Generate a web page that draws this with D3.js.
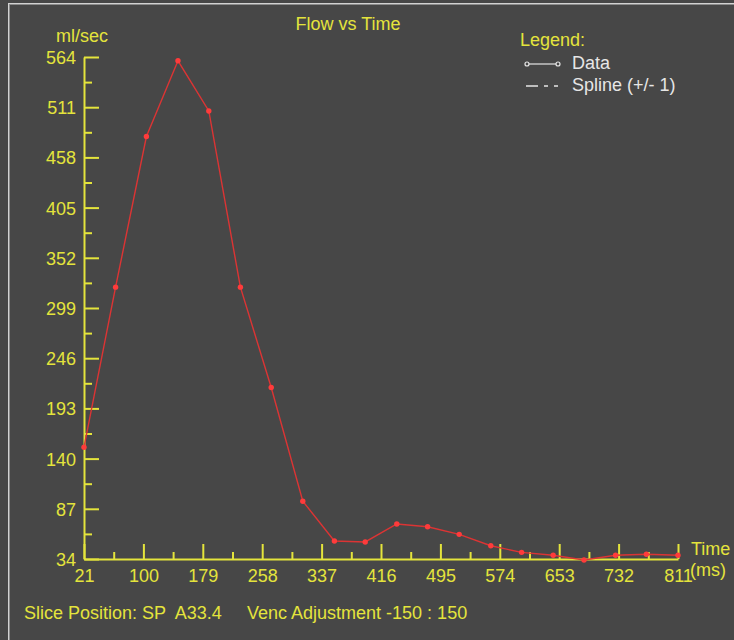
<!DOCTYPE html>
<html>
<head>
<meta charset="utf-8">
<script src="https://cdn.jsdelivr.net/npm/d3@7"></script>
<style>
  html, body { margin: 0; padding: 0; background: #474747; }
  svg { display: block; }
  text { font-family: "Liberation Sans", Arial, sans-serif; }
</style>
</head>
<body>
<svg id="chart" width="734" height="640"></svg>
<script>
// ---- data ----
const times = [21, 63, 104, 146, 187, 229, 270, 312, 354, 395, 437, 478, 520, 562, 603, 645, 686, 728, 769, 811];
const flow  = [152, 321, 480, 560, 507, 321, 215, 95, 53, 52, 71, 68, 60, 48, 41, 38, 33, 38, 39, 38];
const xTickValues = [21, 100, 179, 258, 337, 416, 495, 574, 653, 732, 811];
const yTickValues = [564, 511, 458, 405, 352, 299, 246, 193, 140, 87, 34];
const titleText = "Flow vs Time";
const yLabel = "ml/sec";
const xLabel1 = "Time";
const xLabel2 = "(ms)";
const legendTitle = "Legend:";
const legendItems = ["Data", "Spline (+/- 1)"];
const footer1 = "Slice Position: SP  A33.4";
const footer2 = "Venc Adjustment -150 : 150";

// ---- style ----
const YEL = "#e4e43c";
const RED_LINE = "#dc3434";
const RED_PT = "#ff3b3b";
const LEG = "#e6e6e6";
const FS = 18;

const svg = d3.select("#chart");

// frame
svg.append("rect").attr("x", 0).attr("y", 0).attr("width", 734).attr("height", 640).attr("fill", "#474747");
svg.append("rect").attr("x", 8.5).attr("y", 3.5).attr("width", 900).attr("height", 900)
  .attr("fill", "none").attr("stroke", "#d2d2d2").attr("stroke-width", 1);
svg.append("rect").attr("x", 9.5).attr("y", 4.5).attr("width", 900).attr("height", 900)
  .attr("fill", "none").attr("stroke", "#8c8c8c").attr("stroke-width", 1);

const x = d3.scaleLinear().domain([21, 811]).range([84, 678]);
const y = d3.scaleLinear().domain([34, 564]).range([559, 57]);

// minor ticks (midpoints between labelled ticks)
const xMinor = d3.pairs(xTickValues).map(([a, b]) => (a + b) / 2);
const yMinor = d3.pairs(yTickValues).map(([a, b]) => (a + b) / 2);

function styleAxis(g) {
  g.selectAll("path").attr("stroke", YEL).attr("stroke-width", 2);
  g.selectAll("line").attr("stroke", YEL).attr("stroke-width", 2);
  g.selectAll("text").attr("fill", YEL).style("font-size", FS + "px")
    .style("font-family", '"Liberation Sans", Arial, sans-serif');
}

// Y axis
const yAxisG = svg.append("g").attr("transform", "translate(84,0)")
  .call(d3.axisLeft(y).tickValues(yTickValues).tickSizeInner(-15).tickSizeOuter(0).tickPadding(8));
yAxisG.selectAll("text").attr("dy", "0.36em");
styleAxis(yAxisG);
const yMinorG = svg.append("g").attr("transform", "translate(84,0)")
  .call(d3.axisLeft(y).tickValues(yMinor).tickSizeInner(-8).tickSizeOuter(0).tickFormat(""));
yMinorG.select("path").remove();
styleAxis(yMinorG);

// X axis
const xAxisG = svg.append("g").attr("transform", "translate(0,559)")
  .call(d3.axisBottom(x).tickValues(xTickValues).tickSizeInner(-15).tickSizeOuter(0).tickPadding(10));
styleAxis(xAxisG);
const xMinorG = svg.append("g").attr("transform", "translate(0,559)")
  .call(d3.axisBottom(x).tickValues(xMinor).tickSizeInner(-7).tickSizeOuter(0).tickFormat(""));
xMinorG.select("path").remove();
styleAxis(xMinorG);

// data line
const pts = times.map((t, i) => [t, flow[i]]);
svg.append("path").datum(pts)
  .attr("fill", "none").attr("stroke", RED_LINE).attr("stroke-width", 1.4)
  .attr("d", d3.line().x(d => x(d[0])).y(d => y(d[1])));
svg.append("g").selectAll("circle").data(pts).join("circle")
  .attr("cx", d => x(d[0])).attr("cy", d => y(d[1])).attr("r", 2.7).attr("fill", RED_PT);

// texts
svg.append("text").attr("x", 348).attr("y", 30).attr("text-anchor", "middle")
  .attr("fill", YEL).style("font-size", FS + "px").text(titleText);
svg.append("text").attr("x", 56).attr("y", 42)
  .attr("fill", YEL).style("font-size", FS + "px").text(yLabel);
svg.append("text").attr("x", 691).attr("y", 555)
  .attr("fill", YEL).style("font-size", FS + "px").text(xLabel1);
svg.append("text").attr("x", 690).attr("y", 576)
  .attr("fill", YEL).style("font-size", FS + "px").text(xLabel2);
svg.append("text").attr("x", 24).attr("y", 619)
  .attr("fill", YEL).style("font-size", FS + "px").attr("xml:space", "preserve")
  .style("white-space", "pre").text(footer1);
svg.append("text").attr("x", 247).attr("y", 619)
  .attr("fill", YEL).style("font-size", FS + "px").text(footer2);

// legend
svg.append("text").attr("x", 520).attr("y", 46)
  .attr("fill", YEL).style("font-size", FS + "px").text(legendTitle);
const lg = svg.append("g");
lg.append("line").attr("x1", 527).attr("x2", 558).attr("y1", 64).attr("y2", 64)
  .attr("stroke", LEG).attr("stroke-width", 1.2);
[527, 558].forEach(cx => lg.append("circle").attr("cx", cx).attr("cy", 64).attr("r", 2)
  .attr("fill", "#474747").attr("stroke", LEG).attr("stroke-width", 1.2));
lg.append("line").attr("x1", 526).attr("x2", 559).attr("y1", 86).attr("y2", 86)
  .attr("stroke", LEG).attr("stroke-width", 1.3).attr("stroke-dasharray", "12,6,4,6,4");
legendItems.forEach((t, i) => {
  lg.append("text").attr("x", 572).attr("y", 69 + i * 22)
    .attr("fill", LEG).style("font-size", FS + "px").text(t);
});
</script>
</body>
</html>
